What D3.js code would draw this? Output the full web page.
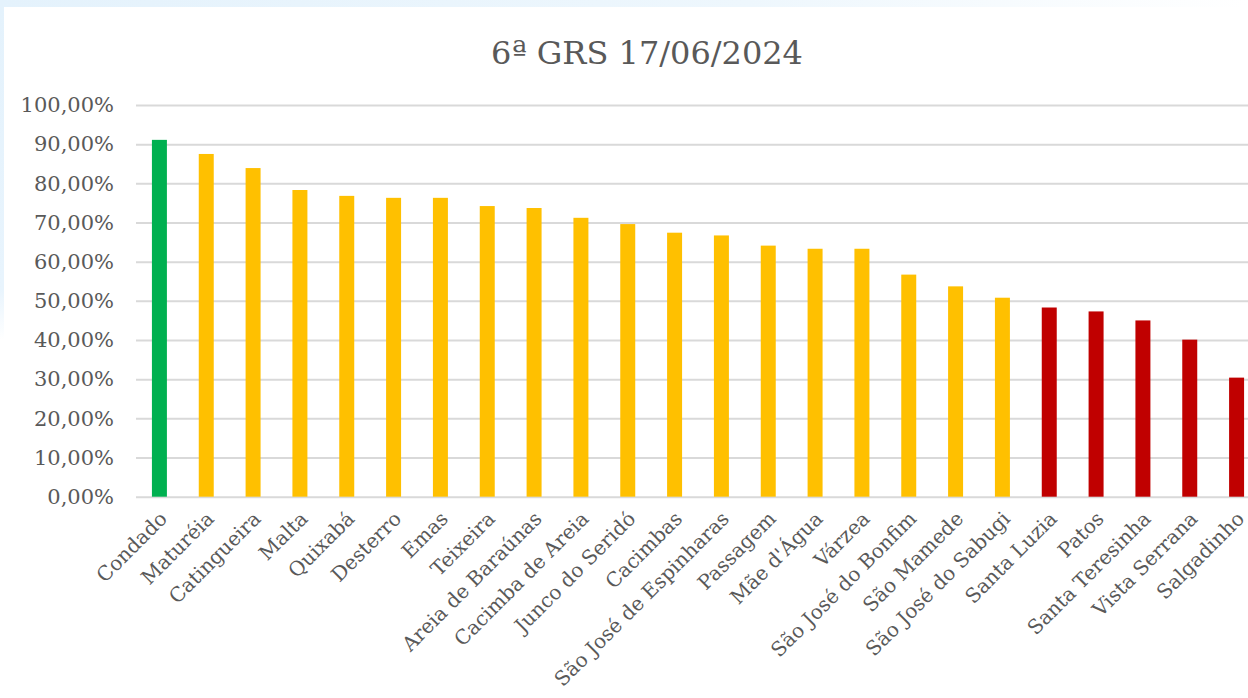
<html lang="pt">
<head>
<meta charset="utf-8">
<title>6ª GRS 17/06/2024</title>
<script src="https://cdn.jsdelivr.net/npm/d3@7"></script>
<style>
  body { margin: 0; background: #ffffff; }
  text { font-family: "DejaVu Serif", "Liberation Serif", serif; fill: #595959; }
</style>
</head>
<body></body>
<script type="text/javascript">

//****************************************************************************************************************************//
// Data

var titleText = "6ª GRS 17/06/2024";

var municipios = [
	"Condado", "Maturéia", "Catingueira", "Malta", "Quixabá", "Desterro", "Emas", "Teixeira",
	"Areia de Baraúnas", "Cacimba de Areia", "Junco do Seridó", "Cacimbas", "São José de Espinharas",
	"Passagem", "Mãe d'Água", "Várzea", "São José do Bonfim", "São Mamede", "São José do Sabugi",
	"Santa Luzia", "Patos", "Santa Teresinha", "Vista Serrana", "Salgadinho"
	];

var cobertura = [
	91.1, 87.5, 83.9, 78.3, 76.8, 76.3, 76.3, 74.2,
	73.7, 71.2, 69.6, 67.4, 66.7,
	64.1, 63.3, 63.3, 56.7, 53.7, 50.8,
	48.3, 47.3, 45.0, 40.1, 30.4
	];

var faixas = [
	"alta", "media", "media", "media", "media", "media", "media", "media",
	"media", "media", "media", "media", "media",
	"media", "media", "media", "media", "media", "media",
	"baixa", "baixa", "baixa", "baixa", "baixa"
	];

var yTicks = [0, 10, 20, 30, 40, 50, 60, 70, 80, 90, 100];

//****************************************************************************************************************************//
// Canvas

var width = 1248,
    height = 698;

var canvas = d3.select("body")
            .append("svg")
            .attr("width", width)
            .attr("height", height);

var defs = canvas.append("defs");

var topFade = defs.append("linearGradient")
		.attr("id", "topFade")
		.attr("x1", 0).attr("y1", 0).attr("x2", 1).attr("y2", 0);
topFade.append("stop").attr("offset", "0%").attr("stop-color", "#e4f2fc");
topFade.append("stop").attr("offset", "60%").attr("stop-color", "#eef7fd");
topFade.append("stop").attr("offset", "100%").attr("stop-color", "#ffffff");

var leftFade = defs.append("linearGradient")
		.attr("id", "leftFade")
		.attr("x1", 0).attr("y1", 0).attr("x2", 0).attr("y2", 1);
leftFade.append("stop").attr("offset", "0%").attr("stop-color", "#e4f2fc");
leftFade.append("stop").attr("offset", "85%").attr("stop-color", "#e8f4fd");
leftFade.append("stop").attr("offset", "100%").attr("stop-color", "#ffffff");

canvas.append("rect")
		.attr("width", width)
		.attr("height", height)
		.attr("fill", "#ffffff");

canvas.append("rect")
		.attr("width", width)
		.attr("height", 7)
		.attr("fill", "url(#topFade)");

canvas.append("rect")
		.attr("width", 4)
		.attr("height", 340)
		.attr("fill", "url(#leftFade)");

//****************************************************************************************************************************//
// Scales

var x = d3.scaleBand()
		.domain(municipios)
		.range([136, 1260])
		.paddingInner(0.68)
		.paddingOuter(0.34);

var y = d3.scaleLinear()
		.domain([0, 100])
		.range([496.7, 105]);

var color = d3.scaleOrdinal()
		.domain(["alta", "media", "baixa"])
		.range(["#00b050", "#ffc000", "#c00000"]);

//****************************************************************************************************************************//
// Title

canvas.append("text")
		.attr("x", 647)
		.attr("y", 64)
		.attr("text-anchor", "middle")
		.style("font-size", "32px")
		.text(titleText);

//****************************************************************************************************************************//
// Grid and y axis

var yAxis = d3.axisLeft(y)
		.tickValues(yTicks)
		.tickSize(-(1260 - 136))
		.tickPadding(22)
		.tickFormat(function(d){ return d3.format(".2f")(d).replace(".", ",") + "%"; });

var yAxisGroup = canvas.append("g")
		.attr("transform", "translate(136,0)")
		.call(yAxis);

yAxisGroup.select(".domain").remove();
yAxisGroup.selectAll(".tick line")
		.attr("stroke", "#d9d9d9")
		.attr("stroke-width", 2);
yAxisGroup.selectAll(".tick text")
		.attr("fill", "#595959")
		.style("font-size", "21px");

//****************************************************************************************************************************//
// Bars

canvas.append("g")
		.selectAll("rect")
		.data(municipios)
		.enter()
		.append("rect")
		.attr("x", function(d){ return x(d); })
		.attr("y", function(d, i){ return y(cobertura[i]); })
		.attr("width", x.bandwidth())
		.attr("height", function(d, i){ return y(0) - y(cobertura[i]); })
		.attr("fill", function(d, i){ return color(faixas[i]); });

//****************************************************************************************************************************//
// x axis labels

var xAxis = d3.axisBottom(x)
		.tickSize(0)
		.tickPadding(0);

var xAxisGroup = canvas.append("g")
		.attr("transform", "translate(0,497)")
		.call(xAxis);

xAxisGroup.select(".domain").remove();
xAxisGroup.selectAll(".tick text")
		.attr("fill", "#595959")
		.style("font-size", "20px")
		.attr("text-anchor", "end")
		.attr("x", 0)
		.attr("y", 0)
		.attr("dy", "0.35em")
		.attr("transform", "translate(4,18) rotate(-45)");

</script>
</html>
